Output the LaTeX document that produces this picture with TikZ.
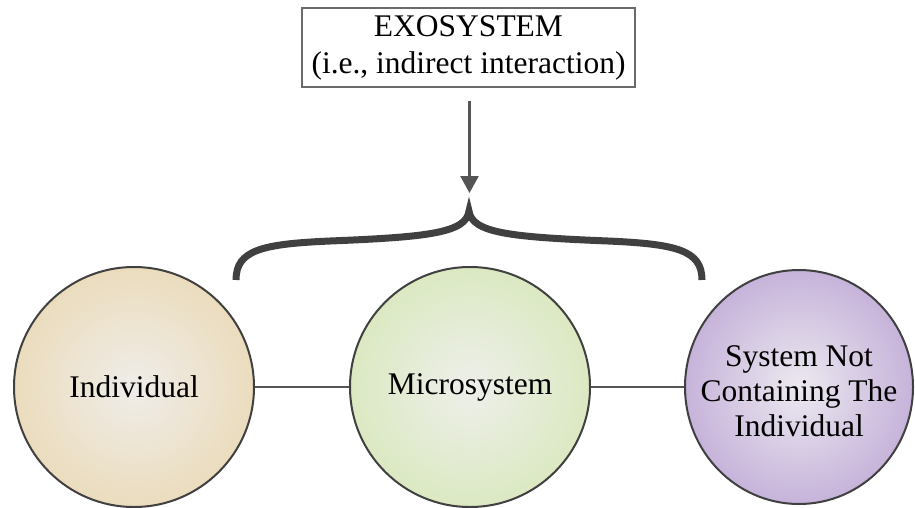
\documentclass[tikz,border=0pt]{standalone}
\usepackage{fontspec}
\setmainfont{Liberation Serif}
\usetikzlibrary{shapes.geometric,arrows.meta,calc}

\definecolor{ink}{HTML}{404040}
\definecolor{linkgray}{HTML}{555555}
\definecolor{boxgray}{HTML}{6A6A6A}
\definecolor{beigeout}{HTML}{EBDCBD}
\definecolor{beigein}{HTML}{EFEDE9}
\definecolor{greenout}{HTML}{DBE9C2}
\definecolor{greenin}{HTML}{EEEFEA}
\definecolor{lilacout}{HTML}{C6B3DA}
\definecolor{lilacin}{HTML}{ECE9F0}

\begin{document}
\begin{tikzpicture}[x=1pt,y=-1pt,
  sphere/.style={circle, draw=ink, line width=2pt, minimum size=240pt,
    inner sep=0pt, align=center, font=\fontsize{31.5}{35}\selectfont},
  link/.style={draw=linkgray, line width=2.5pt},
  headerbox/.style={draw=boxgray, line width=1.3pt, minimum width=333pt,
    minimum height=79pt, inner sep=0pt, align=center,
    font=\fontsize{31.5}{37}\selectfont},
  bracestroke/.style={draw=ink, line width=7pt}]

\useasboundingbox (0,0) rectangle (915,507);

% the three systems
\node[sphere, inner color=beigein, outer color=beigeout] (ind) at (134,387) {Individual};
\node[sphere, inner color=greenin, outer color=greenout] (micro) at (470,387) {Microsystem};
\node[sphere, ellipse, minimum width=228pt, minimum height=234pt,
      inner color=lilacin, outer color=lilacout,
      label={[align=center, font=\fontsize{31.5}{35}\selectfont, yshift=-4pt]center:System Not\\Containing The\\Individual}]
      (other) at (799,387) {};

% links between them
\draw[link] (ind.east) -- (micro.west);
\draw[link] (micro.east) -- (other.west);

% exosystem label and its arrow
\node[headerbox] (exo) at (468.5,47.5) {EXOSYSTEM\\(i.e., indirect interaction)};
\coordinate (tip) at (469.5,193);
\draw[draw=linkgray, line width=2.5pt, -{Triangle[width=18pt,length=17pt]}]
  ($(exo.south)+(1,13)$) -- (tip);

% curly brace spanning microsystem
\coordinate (bl) at (236,280);
\coordinate (cusp) at (469,211);
\coordinate (br) at (702,280);
\draw[bracestroke]
  (bl) .. controls (236,250) and (262,244) .. (330,241)
       .. controls (428,237) and (466,233) .. (cusp)
       .. controls (472,233) and (510,237) .. (608,241)
       .. controls (676,244) and (702,250) .. (br);

\end{tikzpicture}
\end{document}
